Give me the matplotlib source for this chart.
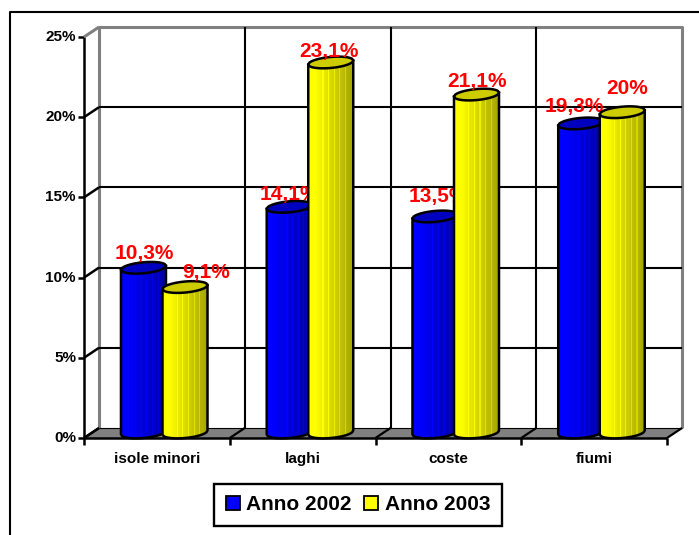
import numpy as np
import matplotlib
matplotlib.use('Agg')
import matplotlib.pyplot as plt
from matplotlib.lines import Line2D
from matplotlib.patches import Patch

categories = ['isole minori', 'laghi', 'coste', 'fiumi']
anno_2002 = [10.3, 14.1, 13.5, 19.3]
anno_2003 = [9.1, 23.1, 21.1, 20.0]
labels_2002 = ['10,3%', '14,1%', '13,5%', '19,3%']
labels_2003 = ['9,1%', '23,1%', '21,1%', '20%']
y_ticks = [0, 5, 10, 15, 20, 25]

W, H = 699, 535
plt.rcParams['font.family'] = ['Liberation Sans', 'DejaVu Sans']

fig = plt.figure(figsize=(W / 100, H / 100), dpi=100)
left, right, top, bottom = 84, 667, 37, 438
ax = fig.add_axes([left / W, 1 - bottom / H, (right - left) / W, (bottom - top) / H])
ax.set_xlim(0, 4)
ax.set_ylim(0, 25)
ax.axis('off')

# pixel sizes in data units
px = 4 / (right - left)
py = 25 / (bottom - top)
dx = 15 * px
dy = 10 * py


def line(xs, ys, color='black', lw=1.5, z=1):
    ax.plot(xs, ys, color=color, lw=lw, zorder=z, clip_on=False, solid_capstyle='butt')


# floor
ax.fill([0, 4, 4 + dx, dx], [0, 0, dy, dy], color='#808080', zorder=0.5, clip_on=False, lw=0)
# back wall edges
line([dx, dx, 4 + dx, 4 + dx], [dy, 25 + dy, 25 + dy, dy], color='#808080', lw=2.2)
for t in y_ticks[1:-1]:
    line([dx, 4 + dx], [t + dy, t + dy])
for i in range(1, 4):
    line([i + dx, i + dx], [dy, 25 + dy])
line([dx, 4 + dx], [dy, dy], lw=0.8)

# front axes, ticks and depth strokes
line([0, 0], [0, 25], lw=1.8)
line([0, 4], [0, 0], lw=1.8)
for t in y_ticks:
    line([-6 * px, 0], [t, t], lw=1.8)
    if t < 25:
        line([0, dx], [t, t + dy], lw=1.8)
    else:
        line([0, dx], [t, t + dy], color='#808080', lw=2.2)
    ax.text(-8 * px, t, f'{t}%', ha='right', va='center', fontsize=11, fontweight='bold')
for i in range(5):
    line([i, i], [0, -7 * py], lw=1.8)
    line([i, i + dx], [0, dy], lw=1.6)
for i, c in enumerate(categories):
    ax.text(i + 0.5, -21 * py, c, ha='center', va='center', fontsize=11, fontweight='bold')


def shade(base, n=40):
    # left bright, right darker, with a few paler stripes like the source
    out = []
    for k in range(n):
        f = k / (n - 1)
        v = 1.0 - 0.35 * max(0, f - 0.15) / 0.85
        if k % 5 == 3 and 0.3 < f < 0.95:
            v = min(1, v + 0.12)
        out.append(tuple(np.array(base) * v))
    return out


def cylinder(xc, value, base, cap, z):
    w = 22.5 * px
    h = 5.5 * py
    tilt = 2 * py / w
    y0 = 5.5 * py
    y1 = value + 5 * py
    t = np.linspace(-1, 1, 41)
    xs = xc + w * t
    front = -h * np.sqrt(1 - t ** 2) + tilt * w * t
    back = h * np.sqrt(1 - t ** 2) + tilt * w * t
    for k, col in enumerate(shade(base)):
        ax.fill([xs[k], xs[k + 1], xs[k + 1], xs[k]],
                [y0 + front[k], y0 + front[k + 1], y1 + front[k + 1], y1 + front[k]],
                color=col, lw=0, zorder=z, antialiased=False, clip_on=False)
    ax.fill(np.r_[xs, xs[::-1]], np.r_[y1 + front, y1 + back[::-1]],
            facecolor=cap, edgecolor='black', lw=1.8, zorder=z + 0.1, clip_on=False)
    ax.plot(np.r_[xs[0], xs, xs[-1]], np.r_[y1 + front[0], y0 + front, y1 + front[-1]],
            color='black', lw=1.8, zorder=z + 0.1, clip_on=False)


label_off_2002 = [(1, 14), (0, 12), (3, 20), (-6, 17)]
label_off_2003 = [(21, 15), (-2, 11), (0, 13), (5, 24)]
for i in range(4):
    cylinder(i + 0.408, anno_2002[i], (0, 0, 1), (0, 0, 0.75), 2)
    ax.annotate(labels_2002[i], (i + 0.408, anno_2002[i] + 5 * py), xytext=label_off_2002[i],
                textcoords='offset pixels', ha='center', va='center', color='red',
                fontsize=15, fontweight='bold', zorder=2.5, annotation_clip=False)
    cylinder(i + 0.693, anno_2003[i], (1, 1, 0), (0.8, 0.8, 0), 3)
    ax.annotate(labels_2003[i], (i + 0.693, anno_2003[i] + 5 * py), xytext=label_off_2003[i],
                textcoords='offset pixels', ha='center', va='center', color='red',
                fontsize=15, fontweight='bold', zorder=3.5, annotation_clip=False)

handles = [Patch(facecolor='#0000ff', edgecolor='black', lw=1.3, label='Anno 2002'),
           Patch(facecolor='#ffff00', edgecolor='black', lw=1.3, label='Anno 2003')]
leg = fig.legend(handles=handles, ncol=2, loc='center', bbox_to_anchor=(358 / W, 1 - 505 / H),
                 fancybox=False, framealpha=1, edgecolor='black',
                 prop={'weight': 'bold', 'size': 15}, handlelength=0.67, handleheight=0.67,
                 handletextpad=0.3, columnspacing=0.62, borderpad=0.55)
leg.get_frame().set_linewidth(1.7)

# outer chart frame, cropped at right and bottom
fig.add_artist(Line2D([10 / W, 10 / W, 1], [0, 1 - 12 / H, 1 - 12 / H], color='black', lw=1.5))

fig.savefig('out.png', dpi=100)
